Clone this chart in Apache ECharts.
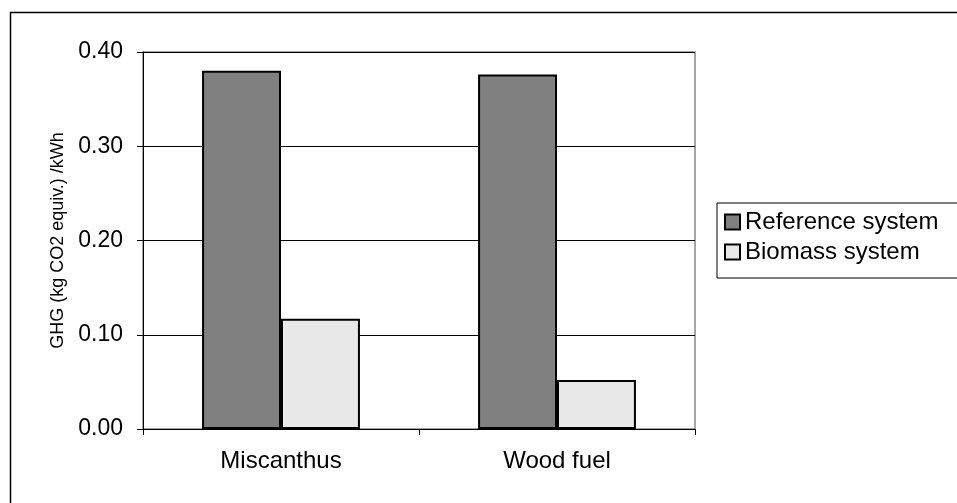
<!DOCTYPE html>
<html>
<head>
<meta charset="utf-8">
<script src="https://cdn.jsdelivr.net/npm/echarts@6/dist/echarts.min.js"></script>
<style>html,body{margin:0;padding:0;background:#fff;}#c{width:957px;height:503px;}</style>
</head>
<body>
<div id="c"></div>
<script>
const categories = ['Miscanthus', 'Wood fuel'];
const referenceSystem = [0.380, 0.376];
const biomassSystem = [0.117, 0.052];
const yTicks = [0, 0.1, 0.2, 0.3, 0.4];
const yAxisTitle = 'GHG (kg CO2 equiv.) /kWh';
const seriesNames = ['Reference system', 'Biomass system'];

const FONT = 'Liberation Sans, Arial, sans-serif';
const chart = echarts.init(document.getElementById('c'), null, {renderer: 'canvas'});
chart.setOption({
  animation: false,
  backgroundColor: '#fff',
  graphic: [{
    type: 'rect', left: 8, top: 10, z: -1,
    shape: {x: 0, y: 0, width: 1000, height: 600},
    style: {fill: 'none', stroke: '#000', lineWidth: 1.5}
  }],
  grid: {left: 143, top: 52, right: 262, bottom: 74, show: true, borderColor: '#888', borderWidth: 1.5},
  legend: {
    orient: 'vertical', left: 717, top: 203,
    padding: [7, 200, 14, 7],
    itemGap: 6, itemWidth: 15, itemHeight: 15,
    borderColor: '#000', borderWidth: 1,
    icon: 'rect',
    textStyle: {fontFamily: FONT, fontSize: 24, color: '#000', padding: [0, 0, 0, 0]},
    data: seriesNames
  },
  xAxis: {
    type: 'category', data: categories,
    axisLine: {lineStyle: {color: '#000', width: 1}},
    axisTick: {show: true, length: 6, lineStyle: {color: '#000'}},
    axisLabel: {fontFamily: FONT, fontSize: 24, color: '#000', margin: 20}
  },
  yAxis: {
    type: 'value', min: yTicks[0], max: yTicks[yTicks.length - 1], interval: 0.1,
    name: yAxisTitle, nameLocation: 'middle', nameGap: 62,
    nameTextStyle: {fontFamily: FONT, fontSize: 18, color: '#000'},
    axisLine: {show: true, lineStyle: {color: '#000', width: 1}},
    axisTick: {show: true, length: 6, lineStyle: {color: '#000'}},
    splitLine: {lineStyle: {color: '#000', width: 1}},
    axisLabel: {fontFamily: FONT, fontSize: 23, color: '#000', margin: 20,
      formatter: v => v.toFixed(2)}
  },
  series: [
    {name: seriesNames[0], type: 'bar', data: referenceSystem, barWidth: '28.6%', barGap: '0%',
      itemStyle: {color: '#808080', borderColor: '#000', borderWidth: 2}},
    {name: seriesNames[1], type: 'bar', data: biomassSystem, barWidth: '28.6%', barGap: '0%',
      itemStyle: {color: '#e8e8e8', borderColor: '#000', borderWidth: 2}}
  ]
});
</script>
</body>
</html>
